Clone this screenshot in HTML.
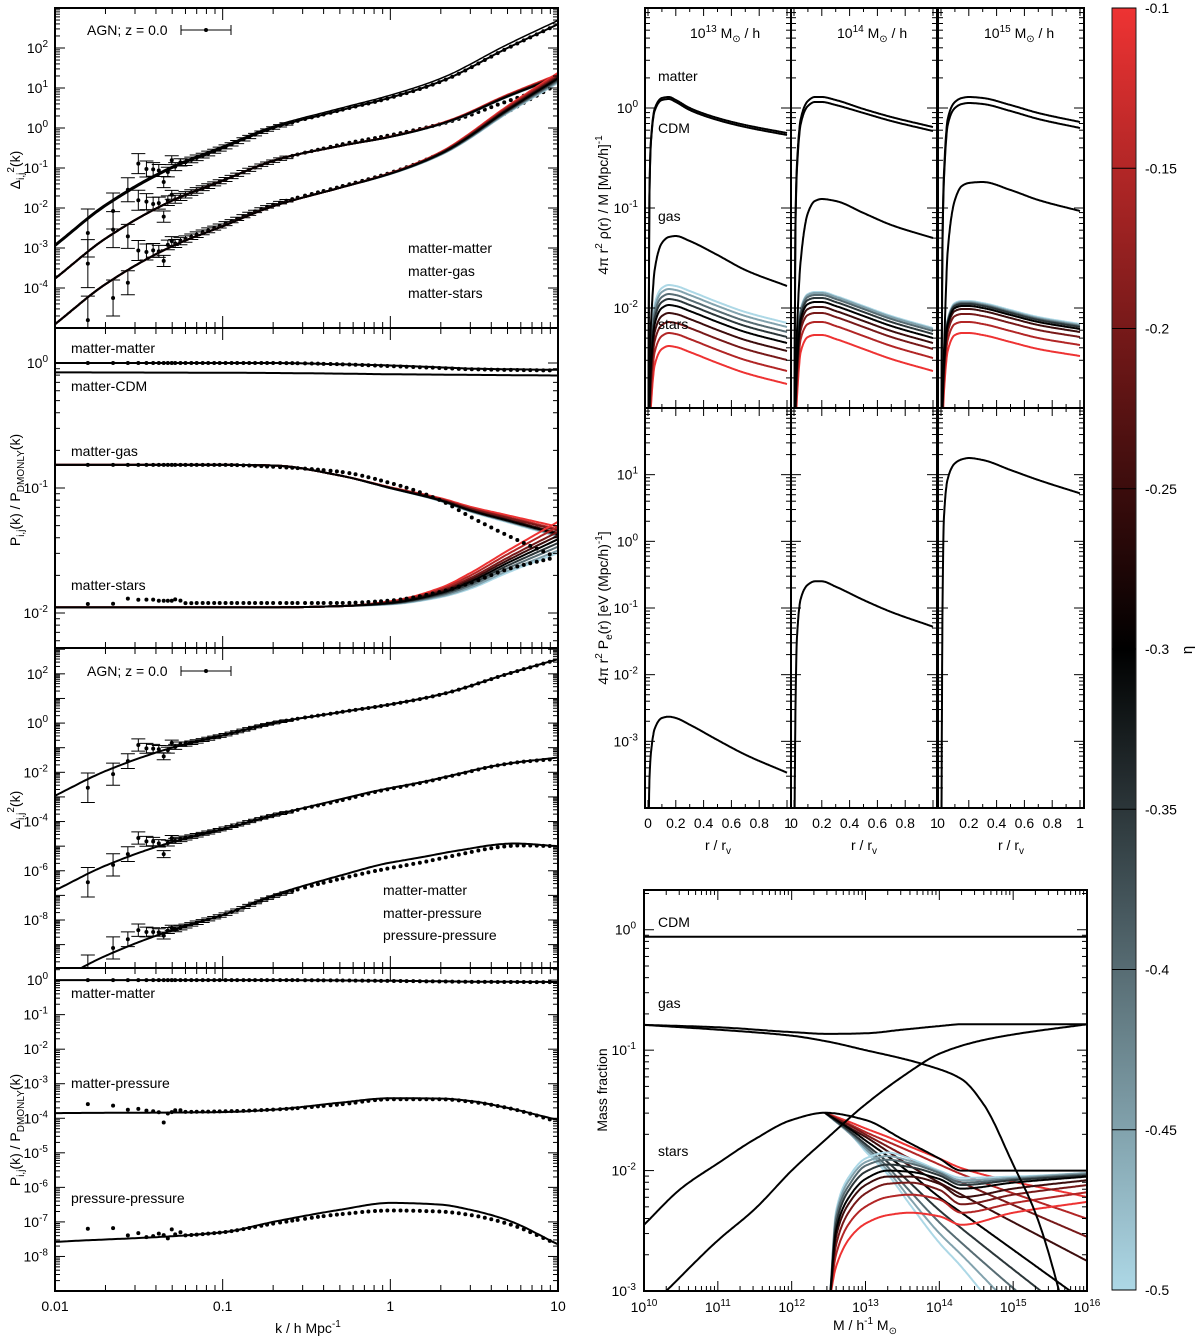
<!DOCTYPE html>
<html><head><meta charset="utf-8">
<style>html,body{margin:0;padding:0;background:#fff;width:1200px;height:1340px;overflow:hidden}svg{display:block;font-family:"Liberation Sans",sans-serif}</style>
</head><body>
<svg id="fig" width="1200" height="1340" viewBox="0 0 1200 1340"></svg>
<script>
// ---------------- DATA ----------------
const etaValues=[-0.1,-0.15,-0.2,-0.25,-0.3,-0.35,-0.4,-0.45,-0.5];
const etaTicks=["-0.1","-0.15","-0.2","-0.25","-0.3","-0.35","-0.4","-0.45","-0.5"];
const kNodes=[0.01,0.02,0.05,0.1,0.2,0.5,1,2,5,10];
const dmDelta=[-2.95,-1.95,-1.0,-0.5,0.0,0.45,0.78,1.2,2.05,2.65];
const kR=[0.01,0.1,0.2,0.5,1,2,3,5,10];
const rMM=[0,0,0,-0.01,-0.02,-0.035,-0.045,-0.05,-0.055];
const rCDM=[-0.075,-0.078,-0.08,-0.085,-0.09,-0.093,-0.095,-0.097,-0.1];
const rGas=[-0.815,-0.815,-0.82,-0.9,-1.0,-1.1,-1.18,-1.26,-1.37];
const rStars=[-1.955,-1.955,-1.955,-1.945,-1.92,-1.84,-1.75,-1.6,-1.41];
const starsEtaOff=[0.14,0.1,0.06,0.03,0,-0.03,-0.06,-0.09,-0.11];
const gasEtaOff=[0.06,0.04,0.03,0.01,0,0,-0.01,-0.01,-0.02];
const etaWeight=[0,0,0,0,0.1,0.3,0.5,0.7,1];
const rMP=[-3.85,-3.82,-3.75,-3.55,-3.42,-3.43,-3.5,-3.7,-4.05];
const rPP=[-7.58,-7.3,-7.0,-6.65,-6.45,-6.5,-6.65,-6.95,-7.65];
const simMM=[0,0,0,-0.01,-0.025,-0.04,-0.05,-0.055,-0.06];
const simGas=[-0.815,-0.815,-0.83,-0.87,-0.96,-1.1,-1.23,-1.38,-1.56];
const simStars=[-1.93,-1.92,-1.92,-1.92,-1.9,-1.83,-1.76,-1.65,-1.55];
const simMP=[-3.85,-3.8,-3.75,-3.6,-3.45,-3.45,-3.52,-3.7,-4.1];
const simPP=[-7.6,-7.3,-7.05,-6.78,-6.67,-6.7,-6.8,-7.05,-7.65];
const kSim=[0.0157,0.0222,0.0272,0.0314,0.0351,0.0385,0.0416,0.0445,0.0471,0.0497,0.0521,0.056,0.06,0.065,0.07,0.076,0.082,0.089,0.096,0.104,0.113,0.122,0.133,0.144,0.156,0.17,0.184,0.2,0.22,0.24,0.26,0.28,0.31,0.34,0.37,0.4,0.44,0.48,0.52,0.57,0.62,0.68,0.74,0.81,0.88,0.96,1.05,1.15,1.25,1.37,1.5,1.64,1.79,1.96,2.14,2.34,2.56,2.8,3.06,3.35,3.66,4.0,4.37,4.78,5.23,5.72,6.25,6.83,7.47,8.17,8.93];
const resMM=[-0.35,-0.25,0.05,0.55,0.3,0.2,0.1,-0.25,-0.05,0.2,0.0,0.05];
const resMG=[-0.3,0.1,-0.3,0.45,0.3,0.15,0.1,-0.3,0.05,0.15,0.0,0.0];
const resMS=[-0.6,-0.5,-0.35,0.3,0.15,0.1,0.0,-0.3,0.05,0.1,0.0,0.0];
const resMP=[-0.35,-0.1,0.1,0.6,0.35,0.25,0.1,-0.4,0.0,0.15,0.0,0.0];
const resPP=[-0.2,0.2,0.3,0.5,0.3,0.2,0.1,-0.1,0.05,0.1,0,0];
const resRatioMP=[0.25,0.2,0.08,0.1,0.05,0.03,0.0,-0.3,-0.04,0.0,0.05,0.05];
const resRatioPP=[0.35,0.33,0.1,0.15,0.02,0.04,0.1,0.05,-0.05,0.2,0.05,0.1];
const resRatioStars=[0.0,0.0,0.04,0.03,0.03,0.03,0.02,0.02,0.02,0.02,0.03,0.02];
const errLog=[0.6,0.45,0.3,0.25,0.2,0.17,0.15,0.14,0.12,0.11,0.1,0.09,0.08,0.07,0.07,0.06,0.06,0.05,0.05,0.05,0.04,0.04,0.04,0.04,0.03,0.03,0.03,0.03,0.03,0.03];
const rNodes=[0.003,0.01,0.02,0.05,0.1,0.15,0.2,0.3,0.5,0.7,1.0];
const m13Matter=[-3.2,-0.9,-0.35,0.0,0.1,0.11,0.08,0.0,-0.1,-0.17,-0.25];
const m13CDM=[-3.2,-0.92,-0.37,-0.02,0.08,0.09,0.06,-0.02,-0.12,-0.19,-0.27];
const m13Gas=[-3.5,-2.6,-2.2,-1.6,-1.35,-1.29,-1.28,-1.33,-1.47,-1.62,-1.78];
const m13Stars=[-3.5,-3.0,-2.6,-2.15,-2.0,-1.97,-1.98,-2.03,-2.14,-2.24,-2.35];
const m14Matter=[-3.3,-1.2,-0.6,-0.1,0.07,0.11,0.11,0.08,-0.01,-0.09,-0.19];
const m14CDM=[-3.3,-1.25,-0.65,-0.15,0.02,0.06,0.06,0.03,-0.05,-0.13,-0.23];
const m14Gas=[-3.5,-3.0,-2.3,-1.5,-1.05,-0.93,-0.91,-0.93,-1.05,-1.17,-1.3];
const m14Stars=[-3.5,-3.0,-2.6,-2.1,-1.96,-1.94,-1.94,-1.98,-2.08,-2.18,-2.3];
const m15Matter=[-3.3,-1.4,-0.7,-0.1,0.06,0.1,0.11,0.1,0.03,-0.05,-0.14];
const m15CDM=[-3.3,-1.45,-0.76,-0.16,0.0,0.04,0.05,0.04,-0.03,-0.11,-0.2];
const m15Gas=[-3.5,-3.0,-2.5,-1.4,-0.92,-0.78,-0.75,-0.74,-0.82,-0.92,-1.03];
const m15Stars=[-3.5,-3.0,-2.6,-2.15,-2.0,-1.98,-1.98,-2.0,-2.07,-2.14,-2.21];
const s13Off=[-0.41,-0.28,-0.17,-0.08,0,0.06,0.11,0.16,0.2];
const s14Off=[-0.33,-0.2,-0.11,-0.05,0,0.04,0.07,0.09,0.1];
const s15Off=[-0.27,-0.16,-0.08,-0.03,0,0.02,0.03,0.04,0.05];
const p13=[-4.5,-3.6,-3.2,-2.8,-2.65,-2.63,-2.65,-2.75,-2.98,-3.2,-3.47];
const p14=[-4.5,-2.6,-1.5,-0.85,-0.65,-0.6,-0.6,-0.68,-0.88,-1.06,-1.28];
const p15=[-4.5,-1.2,0.3,0.95,1.17,1.23,1.25,1.22,1.07,0.92,0.72];
const cdmFrac=-0.058;
const lmGasTot=[10,11,12,12.5,13,13.5,14,14.3,15,16];
const gasTot=[-0.79,-0.81,-0.85,-0.865,-0.86,-0.83,-0.8,-0.785,-0.785,-0.785];
const lmGasB=[10,11,12,12.5,13,13.5,13.8,14.3,14.6,15,15.3,15.6,15.8];
const gasBound=[-0.79,-0.83,-0.88,-0.93,-1.0,-1.07,-1.12,-1.24,-1.45,-1.95,-2.35,-2.95,-3.5];
const lmGasE=[10.3,11,11.5,12,12.5,13,13.5,14,14.5,15,16];
const gasEject=[-3.0,-2.58,-2.32,-2.0,-1.72,-1.45,-1.22,-1.03,-0.93,-0.87,-0.785];
const lmStarsTot=[10,10.5,11,11.5,12,12.45,13,13.5,14,14.3,16];
const starsTot=[-2.45,-2.15,-1.94,-1.74,-1.58,-1.52,-1.58,-1.74,-1.9,-2.0,-2.0];
const lmCentral=[12.52,12.6,12.8,13.0,13.3,13.6,14.0,14.3,15.0,16.0];
const central=[
[-3.05,-2.8,-2.55,-2.44,-2.37,-2.35,-2.38,-2.45,-2.35,-2.26],
[-3.05,-2.7,-2.42,-2.3,-2.22,-2.2,-2.24,-2.35,-2.27,-2.18],
[-3.05,-2.62,-2.32,-2.19,-2.11,-2.1,-2.16,-2.28,-2.2,-2.12],
[-3.05,-2.55,-2.25,-2.12,-2.05,-2.05,-2.11,-2.22,-2.15,-2.08],
[-3.05,-2.5,-2.2,-2.07,-2.0,-2.01,-2.07,-2.15,-2.1,-2.05],
[-3.05,-2.45,-2.14,-2.01,-1.95,-1.97,-2.04,-2.12,-2.08,-2.04],
[-3.05,-2.4,-2.1,-1.96,-1.91,-1.94,-2.02,-2.1,-2.07,-2.03],
[-3.05,-2.37,-2.06,-1.93,-1.88,-1.92,-2.01,-2.08,-2.06,-2.02],
[-3.05,-2.34,-2.03,-1.9,-1.85,-1.9,-2.0,-2.06,-2.05,-2.02]];
const lmSat=[12.45,12.8,13.0,13.3,13.6,14.0,14.3,16.0];
const satellite=[
[-1.52,-1.6,-1.65,-1.72,-1.8,-1.9,-1.98,-2.22],
[-1.52,-1.62,-1.68,-1.76,-1.84,-1.95,-2.03,-2.4],
[-1.52,-1.63,-1.7,-1.8,-1.9,-2.02,-2.1,-2.55],
[-1.52,-1.65,-1.72,-1.84,-1.96,-2.1,-2.2,-2.75],
[-1.52,-1.66,-1.75,-1.88,-2.02,-2.22,-2.35,-3.1],
[-1.52,-1.68,-1.78,-1.93,-2.1,-2.33,-2.48,-3.3],
[-1.52,-1.69,-1.8,-1.97,-2.17,-2.43,-2.6,-3.5],
[-1.52,-1.7,-1.82,-2.0,-2.23,-2.52,-2.7,-3.8],
[-1.52,-1.7,-1.84,-2.03,-2.28,-2.6,-2.8,-4.2]];

// ---------------- HELPERS ----------------
const svg=document.getElementById('fig');
const NS='http://www.w3.org/2000/svg';
function el(tag,attrs,parent){const e=document.createElementNS(NS,tag);for(const a in attrs)e.setAttribute(a,attrs[a]);(parent||svg).appendChild(e);return e;}
function lin(xs,ys,x){const n=xs.length;if(x<=xs[0])return ys[0];if(x>=xs[n-1])return ys[n-1];
  let i=0;while(i<n-2&&x>xs[i+1])i++;
  const d=[];for(let j=0;j<n-1;j++)d.push((ys[j+1]-ys[j])/(xs[j+1]-xs[j]));
  function tan(j){if(j===0)return d[0];if(j===n-1)return d[n-2];if(d[j-1]*d[j]<=0)return 0;const w1=2*(xs[j+1]-xs[j])+(xs[j]-xs[j-1]),w2=(xs[j+1]-xs[j])+2*(xs[j]-xs[j-1]);return (w1+w2)/(w1/d[j-1]+w2/d[j]);}
  const h=xs[i+1]-xs[i],t=(x-xs[i])/h,m0=tan(i),m1=tan(i+1);
  const t2=t*t,t3=t2*t;
  return (2*t3-3*t2+1)*ys[i]+(t3-2*t2+t)*h*m0+(-2*t3+3*t2)*ys[i+1]+(t3-t2)*h*m1;}
function interpK(ks,vs,k){return lin(ks.map(Math.log10),vs,Math.log10(k));}
function etaColor(e){const t=(e+0.5)/0.4;let c;if(t>=0.5){const s=(t-0.5)/0.5;c=[238*s,51*s,51*s];}else{const s=t/0.5;c=[173*(1-s),216*(1-s),230*(1-s)];}return 'rgb('+c.map(v=>Math.round(v)).join(',')+')';}
function rich(parent,x,y,parts,fs,anchor,rot){const t=el('text',{x:x,y:y,'font-size':fs,'text-anchor':anchor||'start',fill:'#000'},parent);if(rot)t.setAttribute('transform','rotate(-90 '+x+' '+y+')');let cur=0;parts.forEach(p=>{const tgt=p[1]==='sup'?-Math.round(fs*0.45):p[1]==='sub'?Math.round(fs*0.3):0;const ts=el('tspan',{dy:tgt-cur,'font-size':p[1]==='n'?fs:Math.round(fs*0.72)},t);ts.textContent=p[0];cur=tgt;});return t;}
function pathFrom(pts){return pts.map((p,i)=>(i?'L':'M')+p[0].toFixed(1)+' '+p[1].toFixed(1)).join('');}
let clipId=0;
function clipRect(x,y,w,h){const id='c'+(clipId++);const cp=el('clipPath',{id:id});el('rect',{x:x,y:y,width:w,height:h},cp);return 'url(#'+id+')';}

// ---------------- LEFT PANELS ----------------
const LX0=55,LX1=558;
function xk(k){return LX0+(Math.log10(k)+2)*(LX1-LX0)/3;}
const P1={top:8,bot:328,vmax:3,vmin:-5};
const P2={top:328,bot:648,vmax:0.28,vmin:-2.28};
const P3={top:648,bot:968,vmax:3.05,vmin:-9.95};
const P4={top:968,bot:1291,vmax:0.35,vmin:-9};
function ym(p,v){return p.top+(p.vmax-v)/(p.vmax-p.vmin)*(p.bot-p.top);}
function kCurve(p,fn){const pts=[];for(let i=0;i<=240;i++){const k=Math.pow(10,-2+3*i/240);pts.push([xk(k),ym(p,fn(k))]);}return pathFrom(pts);}

function leftFrame(p,name,labelDecades){
  const g=el('g',{});
  
  
  for(let d=Math.floor(p.vmin);d<=Math.ceil(p.vmax);d++){for(let m=1;m<10;m++){const v=d+Math.log10(m);if(v<p.vmin||v>p.vmax)continue;const y=ym(p,v);const L=m===1?10:5;
    const t1=el('line',{x1:LX0,x2:LX0+L,y1:y,y2:y,stroke:'#000','stroke-width':1},g);
    
    const t2=el('line',{x1:LX1-L,x2:LX1,y1:y,y2:y,stroke:'#000','stroke-width':1},g);
    }}
  labelDecades.forEach(d=>{const t=rich(g,48,ym(p,d)+5,[['10','n'],[String(d),'sup']],14,'end');
    });
  for(let d=-2;d<=1;d++){for(let m=1;m<10;m++){const k=m*Math.pow(10,d);if(k>10.001)continue;const x=xk(k);const L=m===1?12:6;
    const a=el('line',{x1:x,x2:x,y1:p.top,y2:p.top+L,stroke:'#000','stroke-width':1},g);
    
    const b=el('line',{x1:x,x2:x,y1:p.bot-L,y2:p.bot,stroke:'#000','stroke-width':1},g);
    }}
  const fr=el('rect',{x:LX0,y:p.top,width:LX1-LX0,height:p.bot-p.top,fill:'none',stroke:'#000','stroke-width':2},g);
  
}
function series(parent,p,fn,color,name,w){const e=el('path',{d:kCurve(p,fn),fill:'none',stroke:color,'stroke-width':w||2},parent);
  
  return e;}
function dots(parent,p,fnVal,res,name,errs){kSim.forEach((k,j)=>{const v=fnVal(k)+(res[j]||0);const x=xk(k),y=ym(p,v);
  if(errs&&j<errLog.length){const e=errLog[j];const y1=ym(p,v+e),y2=ym(p,v-e);
    const eb=el('path',{d:'M'+x+' '+y1+'V'+y2+'M'+(x-7)+' '+y1+'H'+(x+7)+'M'+(x-7)+' '+y2+'H'+(x+7),stroke:'#000','stroke-width':1,fill:'none'},parent);
    }
  const c=el('circle',{cx:x,cy:y,r:2,fill:'#000'},parent);
  });}
function label(x,y,s,name,fs){const t=el('text',{x:x,y:y,'font-size':fs||14,fill:'#000'});t.textContent=s;
  
  return t;}
function dmLog(k){return interpK(kNodes,dmDelta,k);}
function rEta(base,off,i,k){return interpK(kR,base,k)+off[i]*interpK(kR,etaWeight,k);}
const order=[8,7,6,5,0,1,2,3,4];

// Panel 1
{const g=el('g',{'clip-path':clipRect(LX0,P1.top,LX1-LX0,P1.bot-P1.top)});
 
 dots(g,P1,k=>dmLog(k)+interpK(kR,simMM,k),resMM,'matter-matter-sim',true);
 dots(g,P1,k=>dmLog(k)+interpK(kR,simGas,k),resMG,'matter-gas-sim',true);
 dots(g,P1,k=>dmLog(k)+interpK(kR,simStars,k),resMS,'matter-stars-sim',true);
 series(g,P1,k=>dmLog(k)+0.04,'#000','dmonly-line',1.5);
 series(g,P1,k=>dmLog(k)+interpK(kR,rMM,k),'#000','matter-matter-line');
 order.forEach(i=>{series(g,P1,k=>dmLog(k)+rEta(rGas,gasEtaOff,i,k),etaColor(etaValues[i]),'matter-gas-line');});
 order.forEach(i=>{series(g,P1,k=>dmLog(k)+rEta(rStars,starsEtaOff,i,k),etaColor(etaValues[i]),'matter-stars-line');});
}
leftFrame(P1,'panel1',[2,1,0,-1,-2,-3,-4]);
// Panel 2
{const g=el('g',{'clip-path':clipRect(LX0,P2.top,LX1-LX0,P2.bot-P2.top)});
 
 series(g,P2,k=>interpK(kR,rMM,k),'#000','ratio-matter-matter');
 series(g,P2,k=>interpK(kR,rCDM,k),'#000','ratio-matter-cdm');
 order.forEach(i=>{series(g,P2,k=>rEta(rGas,gasEtaOff,i,k),etaColor(etaValues[i]),'ratio-matter-gas');});
 order.forEach(i=>{series(g,P2,k=>rEta(rStars,starsEtaOff,i,k),etaColor(etaValues[i]),'ratio-matter-stars');});
 dots(g,P2,k=>interpK(kR,simMM,k),[],'ratio-mm-sim',false);
 dots(g,P2,k=>interpK(kR,simGas,k),[],'ratio-gas-sim',false);
 dots(g,P2,k=>interpK(kR,simStars,k),resRatioStars,'ratio-stars-sim',false);
}
leftFrame(P2,'panel2',[0,-1,-2]);
// Panel 3
{const g=el('g',{'clip-path':clipRect(LX0,P3.top,LX1-LX0,P3.bot-P3.top)});
 
 dots(g,P3,k=>dmLog(k)+interpK(kR,simMM,k),resMM,'matter-matter-sim',true);
 dots(g,P3,k=>dmLog(k)+interpK(kR,simMP,k),resMP,'matter-pressure-sim',true);
 dots(g,P3,k=>dmLog(k)+interpK(kR,simPP,k),resPP,'pressure-pressure-sim',true);
 series(g,P3,k=>dmLog(k)+interpK(kR,rMM,k),'#000','matter-matter-line');
 series(g,P3,k=>dmLog(k)+interpK(kR,rMP,k),'#000','matter-pressure-line');
 series(g,P3,k=>dmLog(k)+interpK(kR,rPP,k),'#000','pressure-pressure-line');
}
leftFrame(P3,'panel3',[2,0,-2,-4,-6,-8]);
// Panel 4
{const g=el('g',{'clip-path':clipRect(LX0,P4.top,LX1-LX0,P4.bot-P4.top)});
 
 series(g,P4,k=>interpK(kR,rMM,k),'#000','ratio-matter-matter');
 series(g,P4,k=>interpK(kR,rMP,k),'#000','ratio-matter-pressure');
 series(g,P4,k=>interpK(kR,rPP,k),'#000','ratio-pressure-pressure');
 dots(g,P4,k=>interpK(kR,simMM,k),[],'ratio-mm-sim',false);
 dots(g,P4,k=>interpK(kR,simMP,k),resRatioMP,'ratio-mp-sim',false);
 dots(g,P4,k=>interpK(kR,simPP,k),resRatioPP,'ratio-pp-sim',false);
}
leftFrame(P4,'panel4',[0,-1,-2,-3,-4,-5,-6,-7,-8]);

[['0.01',0.01],['0.1',0.1],['1',1],['10',10]].forEach(a=>{const t=label(xk(a[1]),1311,a[0],'x-tick-label',14);t.setAttribute('text-anchor','middle');});
{const t=rich(svg,308,1333,[['k / h Mpc','n'],['-1','sup']],14,'middle');}
{const t=rich(svg,20,170,[['Δ','n'],['i,j','sub'],['2','sup'],['(k)','n']],14,'middle',true);}
{const t=rich(svg,20,490,[['P','n'],['i,j','sub'],['(k) / P','n'],['DMONLY','sub'],['(k)','n']],14,'middle',true);}
{const t=rich(svg,20,810,[['Δ','n'],['i,j','sub'],['2','sup'],['(k)','n']],14,'middle',true);}
{const t=rich(svg,20,1130,[['P','n'],['i,j','sub'],['(k) / P','n'],['DMONLY','sub'],['(k)','n']],14,'middle',true);}
function agnLegend(y){label(87,y+5,'AGN; z = 0.0','legend-agn',14);
  const p=el('path',{d:'M181 '+(y-5)+'V'+(y+5)+'M231 '+(y-5)+'V'+(y+5)+'M181 '+y+'H231',stroke:'#000','stroke-width':1,fill:'none'});
  
  const c=el('circle',{cx:206,cy:y,r:2,fill:'#000'});
  }
agnLegend(30);agnLegend(671);
label(408,253,'matter-matter','legend-matter-matter');label(408,276,'matter-gas','legend-matter-gas');label(408,298,'matter-stars','legend-matter-stars');
label(383,895,'matter-matter','legend-matter-matter');label(383,918,'matter-pressure','legend-matter-pressure');label(383,940,'pressure-pressure','legend-pressure-pressure');
label(71,353,'matter-matter','label-matter-matter');label(71,391,'matter-CDM','label-matter-cdm');label(71,456,'matter-gas','label-matter-gas');label(71,590,'matter-stars','label-matter-stars');
label(71,998,'matter-matter','label-matter-matter');label(71,1088,'matter-pressure','label-matter-pressure');label(71,1203,'pressure-pressure','label-pressure-pressure');

// ---------------- RIGHT PROFILE PANELS ----------------
const RP=[645,791,938];const RW=146;
const D={top:8,bot:408,vmax:1,vmin:-3};
const PR={top:408,bot:808,vmax:2,vmin:-4};
function yr(p,v){return p.top+(p.vmax-v)/(p.vmax-p.vmin)*(p.bot-p.top);}
function xr(i,r){return RP[i]+3+r*139;}
function rCurve(i,p,vals,off){const pts=[];for(let s=0;s<=240;s++){const r=0.003+(1-0.003)*Math.pow(s/240,1.5);pts.push([xr(i,r),yr(p,lin(rNodes,vals,r)+(off||0))]);}return pathFrom(pts);}
function rFrame(i,p,name,labels){const g=el('g',{});
  
  const x0=RP[i],x1=RP[i]+RW;
  for(let d=Math.floor(p.vmin);d<=Math.ceil(p.vmax);d++){for(let m=1;m<10;m++){const v=d+Math.log10(m);if(v<p.vmin||v>p.vmax)continue;const y=yr(p,v);const L=m===1?10:5;
    const a=el('line',{x1:x0,x2:x0+L,y1:y,y2:y,stroke:'#000','stroke-width':1},g);
    
    const b=el('line',{x1:x1-L,x2:x1,y1:y,y2:y,stroke:'#000','stroke-width':1},g);
    }}
  for(let s=0;s<=10;s++){const x=xr(i,s/10);const L=s%2===0?8:4;
    const a=el('line',{x1:x,x2:x,y1:p.top,y2:p.top+L,stroke:'#000','stroke-width':1},g);
    
    const b=el('line',{x1:x,x2:x,y1:p.bot-L,y2:p.bot,stroke:'#000','stroke-width':1},g);
    }
  if(labels)labels.forEach(d=>{const t=rich(g,638,yr(p,d)+5,[['10','n'],[String(d),'sup']],14,'end');
    });
  const fr=el('rect',{x:x0,y:p.top,width:RW,height:p.bot-p.top,fill:'none',stroke:'#000','stroke-width':2},g);
  }
const profSets=[[m13Matter,m13CDM,m13Gas,m13Stars,s13Off,p13],[m14Matter,m14CDM,m14Gas,m14Stars,s14Off,p14],[m15Matter,m15CDM,m15Gas,m15Stars,s15Off,p15]];
const massExp=['13','14','15'];
profSets.forEach((set,i)=>{
  const g=el('g',{'clip-path':clipRect(RP[i],D.top,RW,D.bot-D.top)});
  
  order.forEach(j=>{const e=el('path',{d:rCurve(i,D,set[3],set[4][j]),fill:'none',stroke:etaColor(etaValues[j]),'stroke-width':2},g);
    });
  const ga=el('path',{d:rCurve(i,D,set[2]),fill:'none',stroke:'#000','stroke-width':2},g);
  
  const cd=el('path',{d:rCurve(i,D,set[1]),fill:'none',stroke:'#000','stroke-width':2},g);
  
  const ma=el('path',{d:rCurve(i,D,set[0]),fill:'none',stroke:'#000','stroke-width':2},g);
  
  const g2=el('g',{'clip-path':clipRect(RP[i],PR.top,RW,PR.bot-PR.top)});
  
  const pe=el('path',{d:rCurve(i,PR,set[5]),fill:'none',stroke:'#000','stroke-width':2},g2);
  
  rFrame(i,D,'density-axes-'+massExp[i],i===0?[0,-1,-2]:null);
  rFrame(i,PR,'pressure-axes-'+massExp[i],i===0?[1,0,-1,-2,-3]:null);
  const tt=rich(svg,RP[i]+(i===0?45:46),38,[['10','n'],[massExp[i],'sup'],[' M','n'],['⊙','sub'],[' / h','n']],14,'start');
  
  const labs=i<2?['0','0.2','0.4','0.6','0.8']:['0','0.2','0.4','0.6','0.8','1'];
  labs.forEach((s,q)=>{const t=label(xr(i,q*0.2),828,s,'x-tick-label',14);t.setAttribute('text-anchor','middle');});
  if(i<2){const t=label(xr(i,1)+1,828,'1','x-tick-label',14);t.setAttribute('text-anchor','middle');}
  const xt=rich(svg,RP[i]+73,850,[['r / r','n'],['v','sub']],14,'middle');
  
});
label(658,81,'matter','label-matter');label(658,133,'CDM','label-cdm');label(658,221,'gas','label-gas');label(658,329,'stars','label-stars');
{const t=rich(svg,608,205,[['4π r','n'],['2','sup'],[' ρ(r) / M [Mpc/h]','n'],['-1','sup']],14,'middle',true);}
{const t=rich(svg,608,608,[['4π r','n'],['2','sup'],[' P','n'],['e','sub'],['(r) [eV (Mpc/h)','n'],['-1','sup'],[']','n']],14,'middle',true);}

// ---------------- MASS FRACTION ----------------
const MX0=644,MX1=1087;const MF={top:890,bot:1291,vmax:0.33,vmin:-3};
function xm(lm){return MX0+(lm-10)*(MX1-MX0)/6;}
function mCurve(xs,ys){const pts=[];const a=xs[0],b=xs[xs.length-1];for(let s=0;s<=300;s++){const lm=a+(b-a)*s/300;pts.push([xm(lm),yr(MF,lin(xs,ys,lm))]);}return pathFrom(pts);}
{const g=el('g',{'clip-path':clipRect(MX0,MF.top,MX1-MX0,MF.bot-MF.top)});
 
 order.forEach(j=>{const e=el('path',{d:mCurve(lmSat,satellite[j]),fill:'none',stroke:etaColor(etaValues[j]),'stroke-width':2},g);
   });
 order.forEach(j=>{const e=el('path',{d:mCurve(lmCentral,central[j]),fill:'none',stroke:etaColor(etaValues[j]),'stroke-width':2},g);
   });
 const c=el('path',{d:mCurve([10,16],[cdmFrac,cdmFrac]),fill:'none',stroke:'#000','stroke-width':2},g);
 
 const a=el('path',{d:mCurve(lmGasTot,gasTot),fill:'none',stroke:'#000','stroke-width':2},g);
 
 const b=el('path',{d:mCurve(lmGasB,gasBound),fill:'none',stroke:'#000','stroke-width':2},g);
 
 const e2=el('path',{d:mCurve(lmGasE,gasEject),fill:'none',stroke:'#000','stroke-width':2},g);
 
 const s=el('path',{d:mCurve(lmStarsTot,starsTot),fill:'none',stroke:'#000','stroke-width':2},g);
 
}
{const g=el('g',{});
 
 for(let d=-3;d<=0;d++){for(let m=1;m<10;m++){const v=d+Math.log10(m);if(v>MF.vmax)continue;const y=yr(MF,v);const L=m===1?10:5;
   const a=el('line',{x1:MX0,x2:MX0+L,y1:y,y2:y,stroke:'#000','stroke-width':1},g);
   
   const b=el('line',{x1:MX1-L,x2:MX1,y1:y,y2:y,stroke:'#000','stroke-width':1},g);
   }}
 for(let d=10;d<16;d++){for(let m=1;m<10;m++){const x=xm(d+Math.log10(m));const L=m===1?10:5;
   const a=el('line',{x1:x,x2:x,y1:MF.top,y2:MF.top+L,stroke:'#000','stroke-width':1},g);
   
   const b=el('line',{x1:x,x2:x,y1:MF.bot-L,y2:MF.bot,stroke:'#000','stroke-width':1},g);
   }}
 [0,-1,-2,-3].forEach(d=>{const t=rich(g,636,yr(MF,d)+5,[['10','n'],[String(d),'sup']],14,'end');});
 [10,11,12,13,14,15,16].forEach(d=>{const t=rich(g,xm(d),1312,[['10','n'],[String(d),'sup']],14,'middle');});
 const fr=el('rect',{x:MX0,y:MF.top,width:MX1-MX0,height:MF.bot-MF.top,fill:'none',stroke:'#000','stroke-width':2},g);
 
}
label(658,927,'CDM','label-cdm');label(658,1008,'gas','label-gas');label(658,1156,'stars','label-stars');
{const t=rich(svg,865,1330,[['M / h','n'],['-1','sup'],[' M','n'],['⊙','sub']],14,'middle');}
{const t=rich(svg,607,1090,[['Mass fraction','n']],14,'middle',true);}

// ---------------- COLORBAR ----------------
{const defs=el('defs',{});const lg=el('linearGradient',{id:'cbg',x1:0,y1:0,x2:0,y2:1},defs);
 for(let s=0;s<=20;s++){const e=-0.1-0.4*s/20;el('stop',{offset:(s/20),'stop-color':etaColor(e)},lg);}
 const r=el('rect',{x:1112,y:8,width:24,height:1282,fill:'url(#cbg)',stroke:'#222','stroke-width':1});
 
 
 etaValues.forEach((e,i)=>{const y=8+(-0.1-e)/0.4*1282;
   const l=el('line',{x1:1112,x2:1136,y1:y,y2:y,stroke:'#000','stroke-width':1});
   
   label(1145,y+5,etaTicks[i],'colorbar-tick-label',14);});
 const eta=label(1192,650,'η','colorbar-title',15);
 eta.setAttribute('transform','rotate(-90 1192 650)');
 eta.setAttribute('text-anchor','middle');
}
</script>
</body></html>
